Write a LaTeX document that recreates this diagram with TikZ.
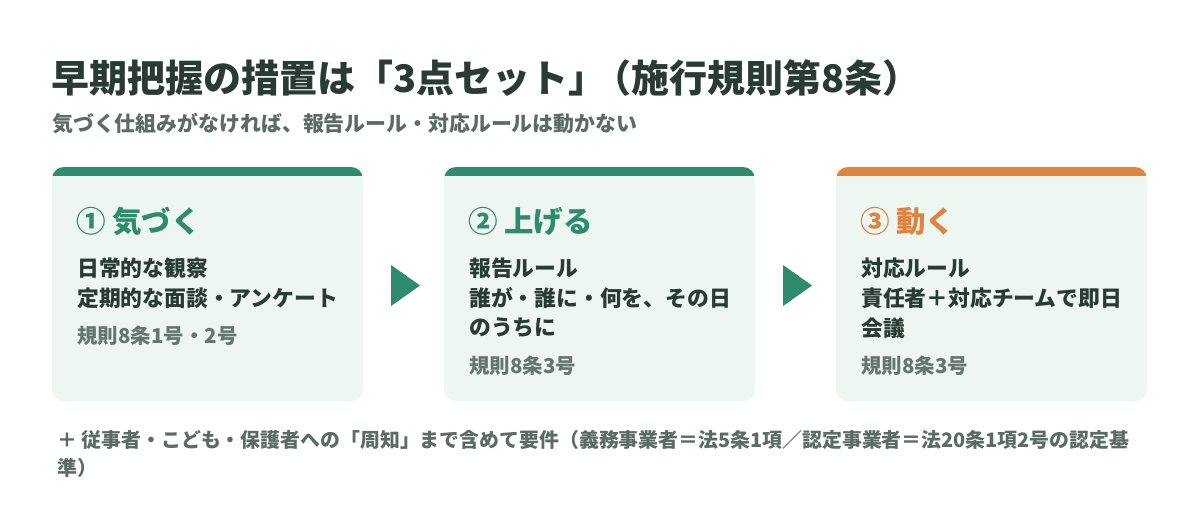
\documentclass[tikz,border=0pt]{standalone}
\usepackage{fontspec}
\setmainfont{Noto Sans CJK JP}
\usetikzlibrary{calc}
\definecolor{ink}{HTML}{2A3B36}
\definecolor{subgray}{HTML}{5B6B66}
\definecolor{refgray}{HTML}{66766F}
\definecolor{accgreen}{HTML}{2E8B6E}
\definecolor{accorange}{HTML}{E0833F}
\definecolor{cardbg}{HTML}{EDF6F1}
\tikzset{
  card/.style={fill=cardbg, rounded corners=12pt, minimum width=311pt, minimum height=234pt, anchor=north west, inner sep=0pt},
  txt/.style={anchor=west, inner sep=0pt, align=left},
  head/.style={txt, font=\bfseries\fontsize{29.5}{34}\selectfont},
  body/.style={txt, text=ink, font=\bfseries\fontsize{21.8}{30}\selectfont},
  ref/.style={txt, text=refgray, font=\bfseries\fontsize{20.5}{24}\selectfont},
  arrowtri/.style={fill=accgreen}
}
\begin{document}
\begin{tikzpicture}[x=1pt,y=-1pt]
\useasboundingbox (0,0) rectangle (1200,519);
\fill[white] (0,0) rectangle (1200,519);
% title
\node[txt, text=ink, font=\bfseries\fontsize{38}{44}\selectfont] (title) at (51,78) {早期把握の措置は「3点セット」\kern-0.35em（施行規則第8条）};
\node[txt, text=subgray, font=\bfseries\fontsize{20.9}{24}\selectfont] (sub) at (52,124) {気づく仕組みがなければ、報告ルール・対応ルールは動かない};
% cards
\foreach \n/\x/\c in {c1/52/accgreen, c2/444/accgreen, c3/836/accorange}{
  \node[card] (\n) at (\x,167) {};
  \begin{scope}
    \clip[rounded corners=12pt] (\x,167) rectangle ++(311,234);
    \fill[\c] (\x,167) rectangle ++(311,9);
  \end{scope}
}
% card 1
\node[head, text=accgreen] (h1) at (76,221) {① 気づく};
\node[body] (b1a) at (77,268) {日常的な観察};
\node[body] (b1b) at (77,298) {定期的な面談・アンケート};
\node[ref] (r1) at (77,336) {規則8条1号・2号};
% card 2
\node[head, text=accgreen] (h2) at (468,221) {② 上げる};
\node[body] (b2a) at (469,268) {報告ルール};
\node[body] (b2b) at (469,298) {誰が・誰に・何を、その日};
\node[body] (b2c) at (469,328) {のうちに};
\node[ref] (r2) at (469,366) {規則8条3号};
% card 3
\node[head, text=accorange] (h3) at (860,221) {③ 動く};
\node[body] (b3a) at (861,268) {対応ルール};
\node[body] (b3b) at (861,298) {責任者＋対応チームで即日};
\node[body] (b3c) at (861,328) {会議};
\node[ref] (r3) at (861,366) {規則8条3号};
% arrows
\fill[arrowtri] (391,265) -- (420,285.5) -- (391,306) -- cycle;
\fill[arrowtri] (783,265) -- (812,285.5) -- (783,306) -- cycle;
% footnote
\node[txt, text=subgray, font=\bfseries\fontsize{19.9}{28}\selectfont] (note1) at (57,440) {＋ 従事者・こども・保護者への「周知」まで含めて要件（義務事業者＝法5条1項／認定事業者＝法20条1項2号の認定基};
\node[txt, text=subgray, font=\bfseries\fontsize{19.9}{28}\selectfont] (note2) at (57,468) {準）};
\end{tikzpicture}
\end{document}
